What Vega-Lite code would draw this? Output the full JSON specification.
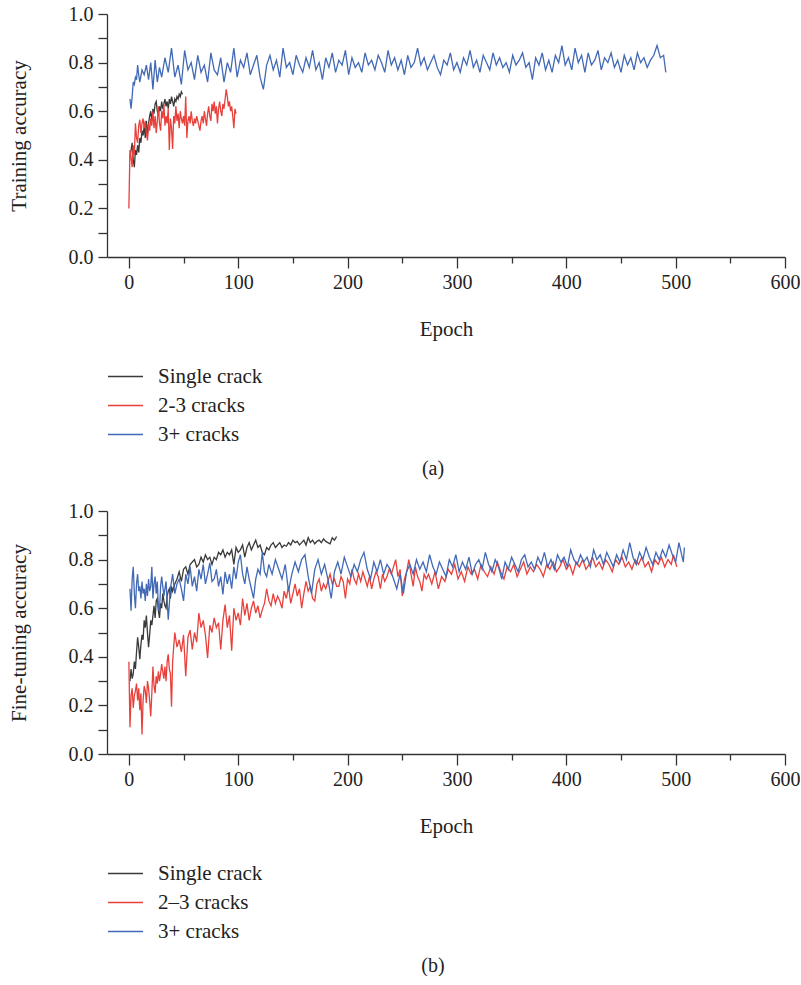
{
"$schema": "https://vega.github.io/schema/vega-lite/v6.json",
"padding": {"left": 8, "top": 4, "right": 0, "bottom": 0},
"config": {
  "font": "Liberation Serif",
  "view": {"stroke": null},
  "axis": {"domainColor": "#333", "tickColor": "#333", "labelColor": "#222", "titleColor": "#222", "labelFontSize": 20, "titleFontSize": 21, "titleFontWeight": "normal", "domainWidth": 1.3, "tickWidth": 1.3, "grid": false, "labelFont": "Liberation Serif", "titleFont": "Liberation Serif", "labelOverlap": false, "labelFlush": false},
  "legend": {"orient": "none", "legendX": 0, "legendY": 344, "direction": "vertical", "title": null, "symbolType": "stroke", "symbolSize": 1225, "symbolStrokeWidth": 1.3, "labelFontSize": 21, "labelFont": "Liberation Serif", "labelColor": "#222", "labelOffset": 14, "rowPadding": -7},
  "title": {"font": "Liberation Serif", "fontSize": 20, "fontWeight": "normal", "color": "#222"}
},
"resolve": {"scale": {"color": "independent"}, "legend": {"color": "independent"}},
"spacing": 22,
"datasets": {
"a_single": [{"e":1,"v":0.41},{"e":2,"v":0.44},{"e":3,"v":0.47},{"e":4,"v":0.40},{"e":5,"v":0.37},{"e":6,"v":0.44},{"e":7,"v":0.42},{"e":8,"v":0.46},{"e":9,"v":0.43},{"e":10,"v":0.49},{"e":11,"v":0.47},{"e":12,"v":0.52},{"e":13,"v":0.50},{"e":14,"v":0.54},{"e":15,"v":0.49},{"e":16,"v":0.56},{"e":17,"v":0.50},{"e":18,"v":0.55},{"e":19,"v":0.58},{"e":20,"v":0.60},{"e":21,"v":0.56},{"e":22,"v":0.61},{"e":23,"v":0.59},{"e":24,"v":0.63},{"e":25,"v":0.64},{"e":26,"v":0.60},{"e":27,"v":0.585},{"e":28,"v":0.62},{"e":29,"v":0.60},{"e":30,"v":0.64},{"e":31,"v":0.61},{"e":32,"v":0.63},{"e":33,"v":0.65},{"e":34,"v":0.62},{"e":35,"v":0.64},{"e":36,"v":0.61},{"e":37,"v":0.65},{"e":38,"v":0.63},{"e":39,"v":0.66},{"e":40,"v":0.64},{"e":41,"v":0.62},{"e":42,"v":0.65},{"e":43,"v":0.64},{"e":44,"v":0.66},{"e":45,"v":0.65},{"e":46,"v":0.67},{"e":47,"v":0.66},{"e":48,"v":0.68},{"e":49,"v":0.67}],
"a_red": [{"e":0,"v":0.20},{"e":1,"v":0.44},{"e":2,"v":0.41},{"e":3,"v":0.37},{"e":4,"v":0.46},{"e":5,"v":0.42},{"e":6,"v":0.55},{"e":7,"v":0.49},{"e":8,"v":0.47},{"e":9,"v":0.54},{"e":10,"v":0.565},{"e":11,"v":0.51},{"e":12,"v":0.55},{"e":13,"v":0.57},{"e":14,"v":0.53},{"e":15,"v":0.56},{"e":16,"v":0.51},{"e":17,"v":0.48},{"e":18,"v":0.55},{"e":19,"v":0.52},{"e":20,"v":0.57},{"e":21,"v":0.54},{"e":22,"v":0.60},{"e":23,"v":0.53},{"e":24,"v":0.58},{"e":25,"v":0.51},{"e":26,"v":0.56},{"e":27,"v":0.62},{"e":28,"v":0.55},{"e":29,"v":0.52},{"e":30,"v":0.60},{"e":31,"v":0.57},{"e":32,"v":0.63},{"e":33,"v":0.54},{"e":34,"v":0.58},{"e":35,"v":0.55},{"e":36,"v":0.61},{"e":37,"v":0.44},{"e":38,"v":0.57},{"e":39,"v":0.53},{"e":40,"v":0.445},{"e":41,"v":0.58},{"e":42,"v":0.55},{"e":43,"v":0.62},{"e":44,"v":0.56},{"e":45,"v":0.59},{"e":46,"v":0.53},{"e":47,"v":0.60},{"e":48,"v":0.57},{"e":49,"v":0.55},{"e":50,"v":0.58},{"e":51,"v":0.54},{"e":52,"v":0.66},{"e":53,"v":0.49},{"e":54,"v":0.56},{"e":55,"v":0.58},{"e":56,"v":0.55},{"e":57,"v":0.60},{"e":58,"v":0.56},{"e":59,"v":0.54},{"e":60,"v":0.57},{"e":61,"v":0.55},{"e":62,"v":0.58},{"e":63,"v":0.56},{"e":64,"v":0.54},{"e":65,"v":0.52},{"e":66,"v":0.56},{"e":67,"v":0.58},{"e":68,"v":0.55},{"e":69,"v":0.60},{"e":70,"v":0.57},{"e":71,"v":0.54},{"e":72,"v":0.59},{"e":73,"v":0.62},{"e":74,"v":0.58},{"e":75,"v":0.56},{"e":76,"v":0.63},{"e":77,"v":0.60},{"e":78,"v":0.64},{"e":79,"v":0.59},{"e":80,"v":0.62},{"e":81,"v":0.55},{"e":82,"v":0.61},{"e":83,"v":0.64},{"e":84,"v":0.60},{"e":85,"v":0.58},{"e":86,"v":0.63},{"e":87,"v":0.61},{"e":88,"v":0.65},{"e":89,"v":0.69},{"e":90,"v":0.66},{"e":91,"v":0.62},{"e":92,"v":0.64},{"e":93,"v":0.60},{"e":94,"v":0.62},{"e":95,"v":0.58},{"e":96,"v":0.53},{"e":97,"v":0.61},{"e":98,"v":0.59}],
"a_blue": [{"e":1,"v":0.65},{"e":2,"v":0.61},{"e":3,"v":0.66},{"e":4,"v":0.72},{"e":5,"v":0.71},{"e":6,"v":0.74},{"e":7,"v":0.73},{"e":8,"v":0.79},{"e":9,"v":0.75},{"e":10,"v":0.72},{"e":12,"v":0.77},{"e":14,"v":0.75},{"e":16,"v":0.79},{"e":18,"v":0.73},{"e":20,"v":0.80},{"e":22,"v":0.69},{"e":24,"v":0.81},{"e":26,"v":0.72},{"e":28,"v":0.78},{"e":30,"v":0.74},{"e":33,"v":0.82},{"e":36,"v":0.76},{"e":39,"v":0.86},{"e":42,"v":0.74},{"e":45,"v":0.79},{"e":48,"v":0.71},{"e":51,"v":0.85},{"e":54,"v":0.77},{"e":57,"v":0.80},{"e":60,"v":0.73},{"e":63,"v":0.83},{"e":66,"v":0.76},{"e":69,"v":0.79},{"e":72,"v":0.72},{"e":75,"v":0.84},{"e":78,"v":0.77},{"e":81,"v":0.75},{"e":84,"v":0.82},{"e":87,"v":0.72},{"e":90,"v":0.80},{"e":93,"v":0.76},{"e":96,"v":0.86},{"e":99,"v":0.74},{"e":102,"v":0.81},{"e":105,"v":0.78},{"e":108,"v":0.84},{"e":111,"v":0.75},{"e":114,"v":0.79},{"e":117,"v":0.83},{"e":120,"v":0.74},{"e":123,"v":0.69},{"e":126,"v":0.79},{"e":129,"v":0.83},{"e":132,"v":0.77},{"e":135,"v":0.81},{"e":138,"v":0.74},{"e":141,"v":0.86},{"e":144,"v":0.78},{"e":147,"v":0.80},{"e":150,"v":0.75},{"e":153,"v":0.83},{"e":156,"v":0.79},{"e":159,"v":0.76},{"e":162,"v":0.82},{"e":165,"v":0.78},{"e":168,"v":0.85},{"e":171,"v":0.77},{"e":174,"v":0.80},{"e":177,"v":0.73},{"e":180,"v":0.82},{"e":183,"v":0.78},{"e":186,"v":0.84},{"e":189,"v":0.76},{"e":192,"v":0.81},{"e":195,"v":0.79},{"e":198,"v":0.85},{"e":201,"v":0.75},{"e":204,"v":0.82},{"e":207,"v":0.78},{"e":210,"v":0.80},{"e":213,"v":0.76},{"e":216,"v":0.84},{"e":219,"v":0.79},{"e":222,"v":0.81},{"e":225,"v":0.77},{"e":228,"v":0.83},{"e":231,"v":0.80},{"e":234,"v":0.76},{"e":237,"v":0.85},{"e":240,"v":0.79},{"e":243,"v":0.82},{"e":246,"v":0.77},{"e":249,"v":0.81},{"e":252,"v":0.75},{"e":255,"v":0.83},{"e":258,"v":0.78},{"e":261,"v":0.80},{"e":264,"v":0.86},{"e":267,"v":0.79},{"e":270,"v":0.82},{"e":273,"v":0.77},{"e":276,"v":0.80},{"e":279,"v":0.83},{"e":282,"v":0.78},{"e":285,"v":0.75},{"e":288,"v":0.81},{"e":291,"v":0.79},{"e":294,"v":0.84},{"e":297,"v":0.77},{"e":300,"v":0.80},{"e":303,"v":0.76},{"e":306,"v":0.82},{"e":309,"v":0.79},{"e":312,"v":0.85},{"e":315,"v":0.78},{"e":318,"v":0.81},{"e":321,"v":0.76},{"e":324,"v":0.83},{"e":327,"v":0.80},{"e":330,"v":0.77},{"e":333,"v":0.84},{"e":336,"v":0.79},{"e":339,"v":0.82},{"e":342,"v":0.78},{"e":345,"v":0.80},{"e":348,"v":0.76},{"e":351,"v":0.83},{"e":354,"v":0.79},{"e":357,"v":0.81},{"e":360,"v":0.84},{"e":363,"v":0.78},{"e":366,"v":0.80},{"e":369,"v":0.73},{"e":372,"v":0.82},{"e":375,"v":0.79},{"e":378,"v":0.84},{"e":381,"v":0.77},{"e":384,"v":0.81},{"e":387,"v":0.76},{"e":390,"v":0.83},{"e":393,"v":0.80},{"e":396,"v":0.87},{"e":399,"v":0.79},{"e":402,"v":0.82},{"e":405,"v":0.77},{"e":408,"v":0.86},{"e":411,"v":0.80},{"e":414,"v":0.83},{"e":417,"v":0.76},{"e":420,"v":0.84},{"e":423,"v":0.79},{"e":426,"v":0.81},{"e":429,"v":0.85},{"e":432,"v":0.77},{"e":435,"v":0.82},{"e":438,"v":0.80},{"e":441,"v":0.84},{"e":444,"v":0.78},{"e":447,"v":0.81},{"e":450,"v":0.76},{"e":453,"v":0.83},{"e":456,"v":0.79},{"e":459,"v":0.82},{"e":462,"v":0.77},{"e":465,"v":0.84},{"e":468,"v":0.80},{"e":471,"v":0.82},{"e":474,"v":0.78},{"e":477,"v":0.81},{"e":480,"v":0.83},{"e":483,"v":0.87},{"e":486,"v":0.82},{"e":489,"v":0.83},{"e":491,"v":0.76}],
"b_single": [{"e":1,"v":0.30},{"e":2,"v":0.35},{"e":3,"v":0.31},{"e":4,"v":0.33},{"e":5,"v":0.38},{"e":6,"v":0.35},{"e":7,"v":0.42},{"e":8,"v":0.48},{"e":9,"v":0.44},{"e":10,"v":0.39},{"e":11,"v":0.45},{"e":12,"v":0.49},{"e":13,"v":0.47},{"e":14,"v":0.55},{"e":15,"v":0.52},{"e":16,"v":0.57},{"e":17,"v":0.50},{"e":18,"v":0.44},{"e":19,"v":0.49},{"e":20,"v":0.55},{"e":21,"v":0.53},{"e":22,"v":0.57},{"e":23,"v":0.61},{"e":24,"v":0.56},{"e":25,"v":0.63},{"e":26,"v":0.64},{"e":27,"v":0.59},{"e":28,"v":0.56},{"e":29,"v":0.62},{"e":30,"v":0.60},{"e":31,"v":0.66},{"e":32,"v":0.63},{"e":33,"v":0.61},{"e":34,"v":0.60},{"e":35,"v":0.65},{"e":36,"v":0.67},{"e":37,"v":0.68},{"e":38,"v":0.64},{"e":39,"v":0.69},{"e":40,"v":0.67},{"e":42,"v":0.70},{"e":44,"v":0.72},{"e":46,"v":0.75},{"e":48,"v":0.71},{"e":50,"v":0.76},{"e":52,"v":0.77},{"e":54,"v":0.74},{"e":56,"v":0.78},{"e":58,"v":0.79},{"e":60,"v":0.80},{"e":62,"v":0.77},{"e":64,"v":0.78},{"e":66,"v":0.81},{"e":68,"v":0.79},{"e":70,"v":0.82},{"e":72,"v":0.80},{"e":74,"v":0.81},{"e":76,"v":0.78},{"e":78,"v":0.81},{"e":80,"v":0.80},{"e":82,"v":0.83},{"e":84,"v":0.82},{"e":86,"v":0.84},{"e":88,"v":0.81},{"e":90,"v":0.83},{"e":92,"v":0.82},{"e":94,"v":0.84},{"e":96,"v":0.78},{"e":98,"v":0.85},{"e":100,"v":0.83},{"e":102,"v":0.84},{"e":104,"v":0.86},{"e":106,"v":0.81},{"e":108,"v":0.85},{"e":110,"v":0.87},{"e":112,"v":0.84},{"e":114,"v":0.86},{"e":116,"v":0.88},{"e":118,"v":0.85},{"e":120,"v":0.86},{"e":122,"v":0.83},{"e":124,"v":0.82},{"e":126,"v":0.85},{"e":128,"v":0.84},{"e":130,"v":0.86},{"e":132,"v":0.87},{"e":134,"v":0.85},{"e":136,"v":0.86},{"e":138,"v":0.87},{"e":140,"v":0.85},{"e":142,"v":0.86},{"e":144,"v":0.855},{"e":146,"v":0.87},{"e":148,"v":0.86},{"e":150,"v":0.88},{"e":152,"v":0.87},{"e":154,"v":0.875},{"e":156,"v":0.86},{"e":158,"v":0.87},{"e":160,"v":0.88},{"e":162,"v":0.86},{"e":164,"v":0.89},{"e":166,"v":0.87},{"e":168,"v":0.88},{"e":170,"v":0.865},{"e":172,"v":0.875},{"e":174,"v":0.88},{"e":176,"v":0.87},{"e":178,"v":0.885},{"e":180,"v":0.875},{"e":182,"v":0.87},{"e":184,"v":0.865},{"e":186,"v":0.89},{"e":188,"v":0.88},{"e":190,"v":0.895}],
"b_red": [{"e":0,"v":0.38},{"e":1,"v":0.11},{"e":2,"v":0.24},{"e":3,"v":0.27},{"e":4,"v":0.19},{"e":5,"v":0.24},{"e":6,"v":0.26},{"e":7,"v":0.29},{"e":8,"v":0.22},{"e":9,"v":0.27},{"e":10,"v":0.18},{"e":11,"v":0.25},{"e":12,"v":0.08},{"e":13,"v":0.22},{"e":14,"v":0.28},{"e":15,"v":0.26},{"e":16,"v":0.21},{"e":17,"v":0.30},{"e":18,"v":0.27},{"e":19,"v":0.22},{"e":20,"v":0.155},{"e":21,"v":0.25},{"e":22,"v":0.36},{"e":23,"v":0.28},{"e":24,"v":0.25},{"e":25,"v":0.32},{"e":26,"v":0.29},{"e":27,"v":0.34},{"e":28,"v":0.30},{"e":29,"v":0.33},{"e":30,"v":0.37},{"e":31,"v":0.34},{"e":32,"v":0.31},{"e":33,"v":0.36},{"e":34,"v":0.30},{"e":35,"v":0.38},{"e":36,"v":0.41},{"e":37,"v":0.35},{"e":38,"v":0.33},{"e":39,"v":0.195},{"e":40,"v":0.38},{"e":42,"v":0.50},{"e":44,"v":0.44},{"e":46,"v":0.47},{"e":48,"v":0.42},{"e":50,"v":0.49},{"e":52,"v":0.32},{"e":54,"v":0.48},{"e":56,"v":0.51},{"e":58,"v":0.43},{"e":60,"v":0.50},{"e":62,"v":0.46},{"e":64,"v":0.58},{"e":66,"v":0.52},{"e":68,"v":0.55},{"e":70,"v":0.49},{"e":72,"v":0.395},{"e":74,"v":0.53},{"e":76,"v":0.50},{"e":78,"v":0.56},{"e":80,"v":0.52},{"e":82,"v":0.54},{"e":84,"v":0.43},{"e":86,"v":0.55},{"e":88,"v":0.615},{"e":90,"v":0.52},{"e":92,"v":0.57},{"e":94,"v":0.425},{"e":96,"v":0.60},{"e":98,"v":0.55},{"e":100,"v":0.58},{"e":102,"v":0.53},{"e":104,"v":0.64},{"e":106,"v":0.57},{"e":108,"v":0.62},{"e":110,"v":0.55},{"e":112,"v":0.60},{"e":114,"v":0.63},{"e":116,"v":0.58},{"e":118,"v":0.61},{"e":120,"v":0.56},{"e":122,"v":0.594},{"e":124,"v":0.62},{"e":126,"v":0.68},{"e":128,"v":0.63},{"e":130,"v":0.61},{"e":132,"v":0.66},{"e":134,"v":0.62},{"e":136,"v":0.65},{"e":138,"v":0.63},{"e":140,"v":0.60},{"e":142,"v":0.67},{"e":144,"v":0.64},{"e":146,"v":0.69},{"e":148,"v":0.62},{"e":150,"v":0.66},{"e":152,"v":0.70},{"e":154,"v":0.65},{"e":156,"v":0.68},{"e":158,"v":0.60},{"e":160,"v":0.66},{"e":162,"v":0.71},{"e":164,"v":0.67},{"e":166,"v":0.69},{"e":168,"v":0.64},{"e":170,"v":0.63},{"e":172,"v":0.70},{"e":174,"v":0.72},{"e":176,"v":0.67},{"e":178,"v":0.70},{"e":180,"v":0.68},{"e":182,"v":0.71},{"e":184,"v":0.74},{"e":186,"v":0.70},{"e":188,"v":0.72},{"e":190,"v":0.69},{"e":192,"v":0.69},{"e":194,"v":0.73},{"e":196,"v":0.71},{"e":198,"v":0.64},{"e":200,"v":0.72},{"e":202,"v":0.70},{"e":204,"v":0.76},{"e":206,"v":0.72},{"e":208,"v":0.70},{"e":210,"v":0.74},{"e":212,"v":0.71},{"e":214,"v":0.75},{"e":216,"v":0.72},{"e":218,"v":0.69},{"e":220,"v":0.73},{"e":222,"v":0.68},{"e":224,"v":0.72},{"e":226,"v":0.75},{"e":228,"v":0.73},{"e":230,"v":0.68},{"e":232,"v":0.74},{"e":234,"v":0.71},{"e":236,"v":0.73},{"e":238,"v":0.76},{"e":240,"v":0.74},{"e":242,"v":0.77},{"e":244,"v":0.80},{"e":246,"v":0.73},{"e":248,"v":0.76},{"e":250,"v":0.65},{"e":252,"v":0.72},{"e":254,"v":0.75},{"e":256,"v":0.80},{"e":258,"v":0.74},{"e":260,"v":0.69},{"e":262,"v":0.77},{"e":264,"v":0.73},{"e":266,"v":0.71},{"e":268,"v":0.67},{"e":270,"v":0.74},{"e":272,"v":0.72},{"e":274,"v":0.74},{"e":277,"v":0.70},{"e":280,"v":0.75},{"e":283,"v":0.68},{"e":286,"v":0.73},{"e":289,"v":0.71},{"e":292,"v":0.76},{"e":295,"v":0.74},{"e":298,"v":0.78},{"e":301,"v":0.72},{"e":304,"v":0.75},{"e":307,"v":0.71},{"e":310,"v":0.77},{"e":313,"v":0.74},{"e":316,"v":0.76},{"e":319,"v":0.72},{"e":322,"v":0.78},{"e":325,"v":0.75},{"e":328,"v":0.73},{"e":331,"v":0.77},{"e":334,"v":0.74},{"e":337,"v":0.79},{"e":340,"v":0.75},{"e":343,"v":0.72},{"e":346,"v":0.77},{"e":349,"v":0.75},{"e":352,"v":0.78},{"e":355,"v":0.73},{"e":358,"v":0.76},{"e":361,"v":0.79},{"e":364,"v":0.74},{"e":367,"v":0.77},{"e":370,"v":0.75},{"e":373,"v":0.78},{"e":376,"v":0.76},{"e":379,"v":0.73},{"e":382,"v":0.78},{"e":385,"v":0.76},{"e":388,"v":0.79},{"e":391,"v":0.75},{"e":394,"v":0.77},{"e":397,"v":0.80},{"e":400,"v":0.76},{"e":403,"v":0.78},{"e":406,"v":0.74},{"e":409,"v":0.79},{"e":412,"v":0.77},{"e":415,"v":0.80},{"e":418,"v":0.76},{"e":421,"v":0.78},{"e":424,"v":0.81},{"e":427,"v":0.77},{"e":430,"v":0.79},{"e":433,"v":0.76},{"e":436,"v":0.80},{"e":439,"v":0.78},{"e":442,"v":0.75},{"e":445,"v":0.80},{"e":448,"v":0.78},{"e":451,"v":0.81},{"e":454,"v":0.77},{"e":457,"v":0.79},{"e":460,"v":0.76},{"e":463,"v":0.80},{"e":466,"v":0.78},{"e":469,"v":0.81},{"e":472,"v":0.77},{"e":475,"v":0.79},{"e":478,"v":0.75},{"e":481,"v":0.80},{"e":484,"v":0.78},{"e":487,"v":0.81},{"e":490,"v":0.77},{"e":493,"v":0.80},{"e":496,"v":0.78},{"e":498,"v":0.82},{"e":501,"v":0.77}],
"b_blue": [{"e":1,"v":0.68},{"e":2,"v":0.59},{"e":3,"v":0.72},{"e":4,"v":0.77},{"e":5,"v":0.66},{"e":6,"v":0.60},{"e":7,"v":0.70},{"e":8,"v":0.74},{"e":9,"v":0.67},{"e":10,"v":0.69},{"e":11,"v":0.64},{"e":12,"v":0.71},{"e":13,"v":0.66},{"e":14,"v":0.68},{"e":15,"v":0.63},{"e":16,"v":0.70},{"e":17,"v":0.65},{"e":18,"v":0.72},{"e":19,"v":0.67},{"e":20,"v":0.69},{"e":21,"v":0.77},{"e":22,"v":0.64},{"e":23,"v":0.70},{"e":24,"v":0.73},{"e":25,"v":0.66},{"e":26,"v":0.71},{"e":27,"v":0.60},{"e":28,"v":0.587},{"e":29,"v":0.69},{"e":30,"v":0.73},{"e":32,"v":0.65},{"e":34,"v":0.71},{"e":36,"v":0.553},{"e":38,"v":0.68},{"e":40,"v":0.74},{"e":42,"v":0.66},{"e":44,"v":0.70},{"e":46,"v":0.72},{"e":48,"v":0.68},{"e":50,"v":0.63},{"e":52,"v":0.74},{"e":54,"v":0.70},{"e":56,"v":0.77},{"e":58,"v":0.69},{"e":60,"v":0.73},{"e":62,"v":0.67},{"e":64,"v":0.76},{"e":66,"v":0.72},{"e":68,"v":0.78},{"e":70,"v":0.70},{"e":72,"v":0.74},{"e":74,"v":0.787},{"e":76,"v":0.71},{"e":78,"v":0.72},{"e":80,"v":0.76},{"e":82,"v":0.69},{"e":84,"v":0.73},{"e":86,"v":0.657},{"e":88,"v":0.75},{"e":90,"v":0.70},{"e":92,"v":0.74},{"e":94,"v":0.68},{"e":96,"v":0.77},{"e":98,"v":0.72},{"e":100,"v":0.79},{"e":102,"v":0.82},{"e":104,"v":0.74},{"e":106,"v":0.70},{"e":108,"v":0.77},{"e":110,"v":0.72},{"e":112,"v":0.68},{"e":114,"v":0.64},{"e":116,"v":0.72},{"e":118,"v":0.76},{"e":120,"v":0.74},{"e":122,"v":0.83},{"e":124,"v":0.75},{"e":126,"v":0.73},{"e":128,"v":0.78},{"e":131,"v":0.74},{"e":134,"v":0.80},{"e":137,"v":0.76},{"e":140,"v":0.72},{"e":143,"v":0.78},{"e":146,"v":0.67},{"e":149,"v":0.74},{"e":152,"v":0.79},{"e":155,"v":0.75},{"e":158,"v":0.80},{"e":161,"v":0.82},{"e":164,"v":0.73},{"e":167,"v":0.66},{"e":170,"v":0.76},{"e":173,"v":0.80},{"e":176,"v":0.74},{"e":179,"v":0.78},{"e":182,"v":0.72},{"e":185,"v":0.64},{"e":188,"v":0.75},{"e":191,"v":0.79},{"e":194,"v":0.74},{"e":197,"v":0.81},{"e":200,"v":0.77},{"e":203,"v":0.73},{"e":206,"v":0.78},{"e":209,"v":0.75},{"e":212,"v":0.80},{"e":215,"v":0.83},{"e":218,"v":0.76},{"e":221,"v":0.72},{"e":224,"v":0.79},{"e":227,"v":0.75},{"e":230,"v":0.80},{"e":233,"v":0.74},{"e":236,"v":0.78},{"e":239,"v":0.76},{"e":242,"v":0.72},{"e":245,"v":0.68},{"e":248,"v":0.74},{"e":251,"v":0.66},{"e":254,"v":0.75},{"e":257,"v":0.78},{"e":260,"v":0.74},{"e":263,"v":0.80},{"e":266,"v":0.76},{"e":269,"v":0.79},{"e":272,"v":0.75},{"e":275,"v":0.82},{"e":278,"v":0.77},{"e":281,"v":0.74},{"e":284,"v":0.79},{"e":287,"v":0.76},{"e":290,"v":0.73},{"e":293,"v":0.80},{"e":296,"v":0.77},{"e":299,"v":0.82},{"e":302,"v":0.75},{"e":305,"v":0.79},{"e":308,"v":0.76},{"e":311,"v":0.81},{"e":314,"v":0.74},{"e":317,"v":0.78},{"e":320,"v":0.80},{"e":323,"v":0.76},{"e":326,"v":0.83},{"e":329,"v":0.78},{"e":332,"v":0.75},{"e":335,"v":0.80},{"e":338,"v":0.77},{"e":341,"v":0.72},{"e":344,"v":0.79},{"e":347,"v":0.76},{"e":350,"v":0.81},{"e":353,"v":0.78},{"e":356,"v":0.75},{"e":359,"v":0.80},{"e":362,"v":0.82},{"e":365,"v":0.77},{"e":368,"v":0.79},{"e":371,"v":0.76},{"e":374,"v":0.81},{"e":377,"v":0.78},{"e":380,"v":0.83},{"e":383,"v":0.77},{"e":386,"v":0.80},{"e":389,"v":0.76},{"e":392,"v":0.82},{"e":395,"v":0.79},{"e":398,"v":0.81},{"e":401,"v":0.77},{"e":404,"v":0.84},{"e":407,"v":0.80},{"e":410,"v":0.78},{"e":413,"v":0.82},{"e":416,"v":0.79},{"e":419,"v":0.81},{"e":422,"v":0.77},{"e":425,"v":0.84},{"e":428,"v":0.80},{"e":431,"v":0.82},{"e":434,"v":0.78},{"e":437,"v":0.83},{"e":440,"v":0.80},{"e":443,"v":0.77},{"e":446,"v":0.82},{"e":449,"v":0.79},{"e":452,"v":0.84},{"e":455,"v":0.80},{"e":458,"v":0.87},{"e":461,"v":0.81},{"e":464,"v":0.78},{"e":467,"v":0.83},{"e":470,"v":0.80},{"e":473,"v":0.85},{"e":476,"v":0.81},{"e":479,"v":0.78},{"e":482,"v":0.83},{"e":485,"v":0.80},{"e":488,"v":0.84},{"e":491,"v":0.81},{"e":494,"v":0.86},{"e":497,"v":0.82},{"e":500,"v":0.79},{"e":503,"v":0.87},{"e":505,"v":0.83},{"e":507,"v":0.79},{"e":508,"v":0.85}]
},
"vconcat": [
 {
  "width": 678, "height": 243,
  "title": {"text": "(a)", "orient": "bottom", "anchor": "middle", "frame": "group", "dx": -13, "offset": 14},
  "encoding": {
    "x": {"field": "e", "type": "quantitative", "scale": {"domain": [-20, 600], "nice": false, "zero": false},
      "axis": {"title": "Epoch", "values": [0,50,100,150,200,250,300,350,400,450,500,550,600], "labelExpr": "datum.value % 100 == 0 ? datum.label : ''", "tickSize": {"condition": {"test": "datum.value % 100 == 0", "value": 11}, "value": 6}, "labelPadding": 4, "titlePadding": 26}},
    "y": {"field": "v", "type": "quantitative", "scale": {"domain": [0, 1], "nice": false},
      "axis": {"title": "Training accuracy", "values": [0,0.1,0.2,0.3,0.4,0.5,0.6,0.7,0.8,0.9,1.0], "labelExpr": "round(datum.value*10) % 2 == 0 ? format(datum.value, '.1f') : ''", "tickSize": 9, "labelPadding": 5, "titlePadding": 39}}
  },
  "layer": [
   {"data": {"name": "a_single"}, "mark": {"type": "line", "strokeWidth": 1.3}, "encoding": {"color": {"datum": "Single crack", "type": "nominal", "scale": {"domain": ["Single crack", "2-3 cracks", "3+ cracks"], "range": ["#3a3a3a", "#e8413c", "#4169b6"]}}}},
   {"data": {"name": "a_red"}, "mark": {"type": "line", "strokeWidth": 1.3}, "encoding": {"color": {"datum": "2-3 cracks", "type": "nominal"}}},
   {"data": {"name": "a_blue"}, "mark": {"type": "line", "strokeWidth": 1.3}, "encoding": {"color": {"datum": "3+ cracks", "type": "nominal"}}}
  ]
 },
 {
  "width": 678, "height": 243,
  "title": {"text": "(b)", "orient": "bottom", "anchor": "middle", "frame": "group", "dx": -13, "offset": 14},
  "encoding": {
    "x": {"field": "e", "type": "quantitative", "scale": {"domain": [-20, 600], "nice": false, "zero": false},
      "axis": {"title": "Epoch", "values": [0,50,100,150,200,250,300,350,400,450,500,550,600], "labelExpr": "datum.value % 100 == 0 ? datum.label : ''", "tickSize": {"condition": {"test": "datum.value % 100 == 0", "value": 11}, "value": 6}, "labelPadding": 4, "titlePadding": 26}},
    "y": {"field": "v", "type": "quantitative", "scale": {"domain": [0, 1], "nice": false},
      "axis": {"title": "Fine-tuning accuracy", "values": [0,0.1,0.2,0.3,0.4,0.5,0.6,0.7,0.8,0.9,1.0], "labelExpr": "round(datum.value*10) % 2 == 0 ? format(datum.value, '.1f') : ''", "tickSize": 9, "labelPadding": 5, "titlePadding": 39}}
  },
  "layer": [
   {"data": {"name": "b_single"}, "mark": {"type": "line", "strokeWidth": 1.3}, "encoding": {"color": {"datum": "Single crack", "type": "nominal", "scale": {"domain": ["Single crack", "2–3 cracks", "3+ cracks"], "range": ["#3a3a3a", "#e8413c", "#4169b6"]}}}},
   {"data": {"name": "b_red"}, "mark": {"type": "line", "strokeWidth": 1.3}, "encoding": {"color": {"datum": "2–3 cracks", "type": "nominal"}}},
   {"data": {"name": "b_blue"}, "mark": {"type": "line", "strokeWidth": 1.3}, "encoding": {"color": {"datum": "3+ cracks", "type": "nominal"}}}
  ]
 }
]
}
